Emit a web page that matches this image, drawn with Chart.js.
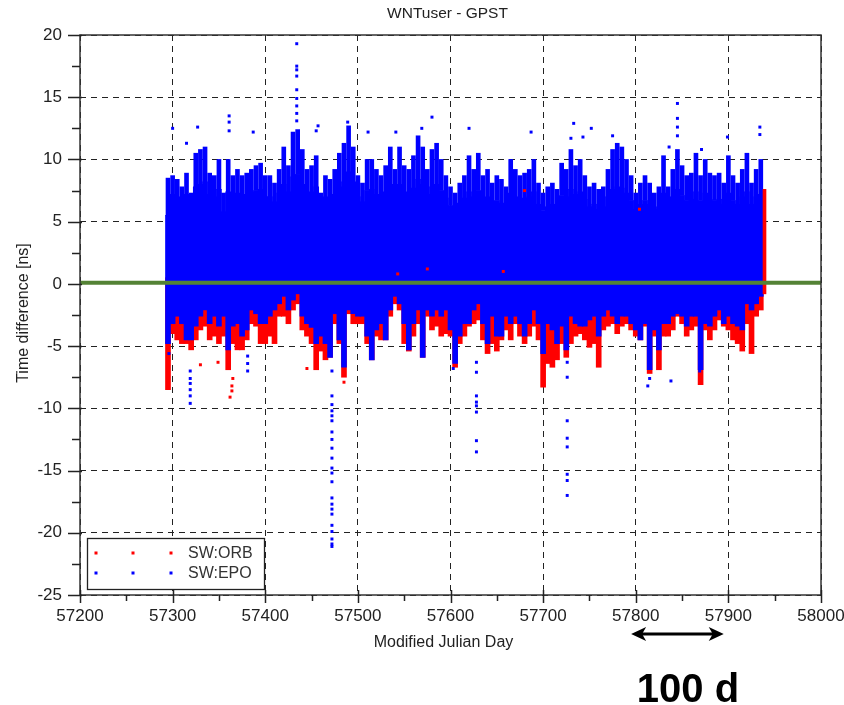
<!DOCTYPE html>
<html>
<head>
<meta charset="utf-8">
<script src="https://cdn.jsdelivr.net/npm/chart.js@4/dist/chart.umd.min.js"></script>
<style>
  html, body { margin: 0; padding: 0; background: #fff; }
</style>
</head>
<body>
<canvas id="c" width="844" height="705"></canvas>
<script>
// 5-day bins of the point cloud (MJD)
const mjd = [
  57295,57300,57305,57310,57315,57320,57325,57330,57335,57340,
  57345,57350,57355,57360,57365,57370,57375,57380,57385,57390,
  57395,57400,57405,57410,57415,57420,57425,57430,57435,57440,
  57445,57450,57455,57460,57465,57470,57475,57480,57485,57490,
  57495,57500,57505,57510,57515,57520,57525,57530,57535,57540,
  57545,57550,57555,57560,57565,57570,57575,57580,57585,57590,
  57595,57600,57605,57610,57615,57620,57625,57630,57635,57640,
  57645,57650,57655,57660,57665,57670,57675,57680,57685,57690,
  57695,57700,57705,57710,57715,57720,57725,57730,57735,57740,
  57745,57750,57755,57760,57765,57770,57775,57780,57785,57790,
  57795,57800,57805,57810,57815,57820,57825,57830,57835,57840,
  57845,57850,57855,57860,57865,57870,57875,57880,57885,57890,
  57895,57900,57905,57910,57915,57920,57925,57930,57935
];
// SW:EPO - highest points of each bin [ns]
const blueTop = [
  8.5, 8.7, 8.4, 7.8, 8.9, 7.3, 10.5, 10.8, 11.0, 8.9,
  8.7, 10.0, 7.3, 10.0, 8.7, 9.2, 8.7, 8.9, 9.2, 9.5,
  9.7, 8.7, 8.7, 8.1, 9.2, 11.0, 9.5, 12.2, 12.4, 10.8,
  9.2, 9.5, 10.3, 7.3, 8.7, 8.4, 9.2, 10.5, 11.3, 12.7,
  11.0, 8.7, 8.1, 10.0, 10.0, 9.2, 8.7, 9.5, 11.0, 9.2,
  11.0, 9.5, 9.2, 10.3, 11.9, 11.0, 9.2, 10.8, 11.3, 10.0,
  8.7, 7.8, 7.3, 8.1, 8.7, 10.3, 9.2, 10.5, 8.7, 9.2,
  8.1, 8.7, 8.4, 7.8, 10.0, 9.2, 8.7, 8.9, 9.2, 10.0,
  8.1, 7.3, 7.8, 8.1, 7.6, 9.7, 9.2, 10.8, 9.5, 10.0,
  8.7, 7.8, 8.1, 7.6, 7.8, 9.2, 10.8, 11.3, 11.0, 10.0,
  8.7, 7.3, 8.1, 8.7, 8.1, 7.3, 7.8, 10.3, 7.8, 9.2,
  10.8, 9.5, 8.7, 8.9, 10.5, 8.7, 10.0, 8.9, 8.7, 8.9,
  8.1, 10.3, 8.7, 8.1, 9.2, 10.5, 8.1, 9.2, 10.0
];
// SW:EPO - top of the dense part of each bin [ns]
const blueCore = [
  5.5, 7.2, 7.0, 6.6, 7.2, 6.2, 7.8, 8.0, 8.2, 7.2,
  7.0, 7.6, 5.8, 7.4, 7.0, 7.3, 7.0, 7.2, 7.4, 7.5,
  7.6, 7.0, 7.0, 6.6, 7.3, 8.0, 7.4, 8.6, 8.8, 8.0,
  7.3, 7.4, 7.8, 6.0, 7.0, 6.8, 7.2, 7.8, 8.2, 9.0,
  8.2, 7.0, 6.6, 7.5, 7.6, 7.2, 7.0, 7.4, 8.0, 7.2,
  8.0, 7.4, 7.2, 7.7, 8.4, 8.0, 7.2, 7.8, 8.0, 7.5,
  6.9, 6.3, 6.0, 6.5, 6.9, 7.4, 7.0, 7.5, 6.8, 7.0,
  6.4, 6.7, 6.5, 6.2, 7.3, 7.0, 6.8, 6.9, 7.0, 7.4,
  6.4, 5.9, 6.2, 6.4, 6.1, 7.1, 7.0, 7.6, 7.2, 7.4,
  6.8, 6.2, 6.4, 6.0, 6.2, 7.0, 7.6, 7.8, 7.7, 7.3,
  6.7, 6.0, 6.4, 6.7, 6.4, 6.0, 6.2, 7.3, 6.2, 7.0,
  7.6, 7.1, 6.7, 6.8, 7.4, 6.7, 7.3, 6.8, 6.7, 6.8,
  6.4, 7.3, 6.7, 6.4, 7.0, 7.4, 6.4, 7.0, 7.2
];
// SW:EPO - lowest points of each bin [ns]
const blueLow = [
  -4.8, -3.2, -2.6, -3.2, -4.5, -4.5, -3.4, -2.6, -2.1, -3.2,
  -2.6, -3.4, -2.6, -5.3, -3.4, -3.2, -4.2, -3.7, -2.1, -2.4,
  -3.2, -3.2, -2.6, -2.1, -1.6, -1.0, -2.1, -1.3, -0.8, -2.6,
  -3.2, -3.5, -4.8, -4.2, -4.8, -5.9, -2.4, -4.5, -6.7, -2.1,
  -2.4, -2.6, -2.6, -4.2, -6.1, -3.7, -3.2, -4.5, -2.1, -1.0,
  -1.6, -3.2, -5.3, -3.2, -2.1, -5.9, -2.1, -2.6, -2.1, -2.6,
  -2.1, -3.7, -6.4, -4.2, -3.2, -3.2, -2.1, -1.6, -3.2, -4.8,
  -2.6, -4.2, -4.2, -2.6, -3.2, -2.6, -3.2, -4.2, -3.2, -2.1,
  -3.2, -5.6, -3.2, -3.7, -4.8, -3.4, -5.3, -2.6, -3.2, -3.4,
  -3.4, -2.9, -2.6, -4.2, -2.6, -2.1, -2.6, -3.2, -2.6, -2.6,
  -3.2, -3.7, -4.5, -3.2, -6.9, -3.7, -5.3, -3.2, -3.2, -2.6,
  -2.4, -2.6, -3.4, -2.6, -2.6, -6.9, -3.2, -3.4, -2.6, -2.1,
  -3.2, -2.6, -3.2, -3.4, -3.7, -1.6, -2.1, -1.6, -1.0
];
// SW:ORB - lowest points of each bin [ns]
const redLow = [
  -8.5, -4.0, -4.5, -4.8, -4.8, -5.3, -4.5, -3.7, -3.4, -4.5,
  -4.2, -4.8, -4.2, -6.9, -4.8, -5.3, -5.3, -4.5, -3.2, -3.4,
  -4.8, -4.8, -4.2, -4.8, -2.6, -2.6, -3.2, -2.1, -1.6, -3.7,
  -4.2, -4.8, -6.9, -5.4, -6.1, -5.9, -3.2, -4.8, -7.5, -2.4,
  -3.2, -3.2, -3.2, -4.8, -6.1, -4.2, -4.5, -4.5, -2.6, -1.6,
  -2.1, -4.8, -5.4, -4.2, -3.2, -5.9, -2.6, -3.7, -3.4, -4.2,
  -4.0, -4.2, -6.7, -4.8, -4.2, -3.4, -3.2, -2.9, -4.5, -5.6,
  -4.8, -5.4, -4.5, -3.7, -4.5, -3.2, -4.2, -4.8, -4.2, -3.4,
  -4.5, -8.3, -6.4, -6.7, -6.1, -4.8, -5.9, -4.8, -4.2, -4.0,
  -4.5, -5.1, -4.8, -6.7, -3.7, -3.4, -3.2, -4.0, -3.4, -3.2,
  -3.7, -4.2, -4.5, -3.4, -7.2, -4.2, -6.9, -4.2, -4.2, -3.7,
  -2.6, -3.2, -4.2, -3.7, -3.4, -8.1, -3.7, -4.5, -3.7, -2.9,
  -3.4, -3.7, -4.5, -4.8, -5.4, -3.2, -5.6, -2.6, -2.1
];
// SW:ORB - last day, red strip at the right end
const redTailX = [57939];
const redTailLow = [-0.8];
const redTailTop = [7.6];

// isolated SW:EPO points
const blueDotX = [
  57434, 57434, 57434, 57434, 57434, 57434, 57434, 57434, 57434,
  57361, 57361, 57361, 57300, 57315, 57327, 57387, 57455, 57457, 57489,
  57511, 57541, 57569, 57580, 57620, 57687, 57730, 57733, 57743, 57752,
  57775, 57836, 57845, 57845, 57845, 57845, 57871, 57899, 57934, 57934,
  57472, 57472, 57472, 57472, 57472, 57472, 57472, 57472, 57472, 57472, 57472,
  57472, 57472, 57472, 57472, 57472, 57472, 57472, 57472, 57472, 57472, 57472,
  57319, 57319, 57319, 57319, 57319, 57319, 57381, 57381, 57381, 57296,
  57628, 57628, 57628, 57628, 57628, 57628, 57628, 57628,
  57726, 57726, 57726, 57726, 57726, 57726, 57726, 57726,
  57603, 57813, 57815, 57838, 57869
];
const blueDotY = [
  19.3, 17.5, 17.2, 16.7, 15.6, 14.9, 14.3, 13.7, 13.1,
  13.5, 13.0, 12.3, 12.5, 11.3, 12.6, 12.2, 12.3, 12.7, 13.0,
  12.2, 12.2, 12.5, 13.4, 12.5, 12.2, 11.7, 12.9, 11.8, 12.5,
  11.9, 11.0, 14.5, 13.3, 12.6, 11.9, 10.8, 11.8, 12.6, 12.0,
  -7.0, -9.0, -9.7, -10.2, -10.6, -11.0, -11.9, -12.5, -13.2, -14.0, -14.8,
  -15.2, -15.9, -17.2, -17.7, -18.1, -18.5, -19.4, -19.9, -20.5, -20.9, -21.1,
  -7.0, -7.6, -8.0, -8.5, -9.0, -9.6, -5.8, -6.4, -7.0, -5.6,
  -6.3, -7.1, -9.0, -9.5, -9.8, -10.3, -12.6, -13.5,
  -6.3, -7.5, -11.0, -12.4, -13.1, -15.3, -15.8, -17.0,
  -6.8, -8.2, -7.6, -7.8, -7.0
];
// isolated SW:ORB points
const redDotX = [57330, 57349, 57362, 57364, 57364, 57365, 57445, 57485, 57543, 57575, 57657, 57680, 57804];
const redDotY = [-6.5, -6.3, -9.1, -8.2, -8.6, -7.6, -6.8, -7.9, 0.8, 1.2, 1.0, 7.5, 6.0];

// reference level (green)
const refX = [57200, 58000];
const refY = [0.1, 0.1];

const xTickLabels = [57200, 57300, 57400, 57500, 57600, 57700, 57800, 57900, 58000];
const yTickLabels = [20, 15, 10, 5, 0, -5, -10, -15, -20, -25];
const seriesNames = ['SW:ORB', 'SW:EPO'];
const spanStart = 57795, spanEnd = 57895, spanText = '100 d';

const FONT = '"Liberation Sans", Arial, sans-serif';
const BLUE = '#0000ff', RED = '#ff0000', GREEN = '#548235';

const decor = {
  id: 'decor',
  beforeDraw(chart) {
    const ctx = chart.ctx;
    ctx.save();
    ctx.fillStyle = '#fff';
    ctx.fillRect(0, 0, chart.width, chart.height);
    ctx.restore();
  },
  afterDraw(chart) {
    const { ctx, chartArea: a, scales: { x, y } } = chart;
    ctx.save();

    // plot frame
    ctx.strokeStyle = '#333';
    ctx.lineWidth = 1.5;
    ctx.strokeRect(a.left, a.top, a.right - a.left, a.bottom - a.top);

    // major + minor tick marks
    ctx.strokeStyle = '#222';
    ctx.lineWidth = 1.5;
    ctx.beginPath();
    for (let i = 0; i < xTickLabels.length; i++) {
      const px = Math.round(x.getPixelForValue(xTickLabels[i])) + 0.5;
      ctx.moveTo(px, a.bottom - 5); ctx.lineTo(px, a.bottom + 8);
      if (i < xTickLabels.length - 1) {
        const pm = Math.round(x.getPixelForValue((xTickLabels[i] + xTickLabels[i + 1]) / 2)) + 0.5;
        ctx.moveTo(pm, a.bottom); ctx.lineTo(pm, a.bottom + 6);
      }
    }
    for (let i = 0; i < yTickLabels.length; i++) {
      const py = Math.round(y.getPixelForValue(yTickLabels[i])) + 0.5;
      ctx.moveTo(a.left - 12, py); ctx.lineTo(a.left + 2, py);
      if (i < yTickLabels.length - 1) {
        const pm = Math.round(y.getPixelForValue((yTickLabels[i] + yTickLabels[i + 1]) / 2)) + 0.5;
        ctx.moveTo(a.left - 8, pm); ctx.lineTo(a.left, pm);
      }
    }
    ctx.stroke();

    // title and axis titles
    ctx.fillStyle = '#222';
    ctx.textAlign = 'center';
    ctx.textBaseline = 'middle';
    ctx.font = '15.5px ' + FONT;
    ctx.fillText('WNTuser - GPST', (a.left + a.right) / 2 - 3, 14);
    ctx.font = '16px ' + FONT;
    ctx.fillText('Modified Julian Day', (a.left + a.right) / 2 - 7, 643);
    ctx.save();
    ctx.translate(24, 313);
    ctx.rotate(-Math.PI / 2);
    ctx.fillText('Time difference [ns]', 0, 0);
    ctx.restore();

    // legend box
    const lx = 87, ly = 538, lw = 177, lh = 51;
    ctx.fillStyle = '#fff';
    ctx.fillRect(lx, ly, lw, lh);
    ctx.strokeStyle = '#222';
    ctx.lineWidth = 1.3;
    ctx.strokeRect(lx + 0.5, ly + 0.5, lw, lh);
    const cols = [RED, BLUE];
    for (let r = 0; r < 2; r++) {
      const yy = ly + 15 + r * 20;
      ctx.fillStyle = cols[r];
      [96, 133, 171].forEach(dx => ctx.fillRect(dx - 1.5, yy - 1.5, 3, 3));
      ctx.fillStyle = '#333';
      ctx.textAlign = 'left';
      ctx.font = '16px ' + FONT;
      ctx.fillText(seriesNames[r], 188, yy + 1);
    }

    // 100 day arrow
    const x0 = x.getPixelForValue(spanStart), x1 = x.getPixelForValue(spanEnd), ay = 634;
    ctx.strokeStyle = '#000';
    ctx.fillStyle = '#000';
    ctx.lineWidth = 3;
    ctx.beginPath();
    ctx.moveTo(x0 + 8, ay); ctx.lineTo(x1 - 8, ay);
    ctx.stroke();
    ctx.beginPath();
    ctx.moveTo(x0, ay); ctx.lineTo(x0 + 15, ay - 7); ctx.lineTo(x0 + 11, ay); ctx.lineTo(x0 + 15, ay + 7); ctx.closePath();
    ctx.moveTo(x1, ay); ctx.lineTo(x1 - 15, ay - 7); ctx.lineTo(x1 - 11, ay); ctx.lineTo(x1 - 15, ay + 7); ctx.closePath();
    ctx.fill();
    ctx.textAlign = 'center';
    ctx.textBaseline = 'alphabetic';
    ctx.font = 'bold 40px ' + FONT;
    ctx.fillText(spanText, 688, 702);

    ctx.restore();
  }
};

const bins = (lo, hi) => mjd.map((m, i) => ({ x: m, y: [lo[i], hi[i]] }));
const pts = (xs, ys) => xs.map((v, i) => ({ x: v, y: ys[i] }));

new Chart(document.getElementById('c'), {
  type: 'bar',
  data: {
    datasets: [
      {
        type: 'line', label: 'ref', data: pts(refX, refY),
        borderColor: GREEN, borderWidth: 4, pointRadius: 0, order: 0
      },
      {
        type: 'scatter', label: 'EPO dots', data: pts(blueDotX, blueDotY),
        pointStyle: 'rect', pointRadius: 2.1, borderWidth: 0, backgroundColor: BLUE, order: 1
      },
      {
        type: 'scatter', label: 'ORB dots', data: pts(redDotX, redDotY),
        pointStyle: 'rect', pointRadius: 2.1, borderWidth: 0, backgroundColor: RED, order: 2
      },
      {
        label: 'ORB tail', data: redTailX.map((m, i) => ({ x: m, y: [redTailLow[i], redTailTop[i]] })),
        backgroundColor: RED, barThickness: 3, grouped: false, order: 2
      },
      {
        label: 'EPO spikes', data: bins(blueCore, blueTop),
        backgroundColor: BLUE, barThickness: 4, grouped: false, order: 3
      },
      {
        label: 'EPO', data: bins(blueLow, blueCore),
        backgroundColor: BLUE, barThickness: 5, grouped: false, order: 3
      },
      {
        label: 'ORB', data: bins(redLow, mjd.map(() => 0.5)),
        backgroundColor: RED, barThickness: 5, grouped: false, order: 4
      }
    ]
  },
  options: {
    responsive: false,
    animation: false,
    devicePixelRatio: 1,
    layout: { padding: { top: 35, right: 23, left: 0, bottom: 0 } },
    plugins: { legend: { display: false }, tooltip: { enabled: false }, title: { display: false } },
    scales: {
      x: {
        type: 'linear', min: 57200, max: 58000, offset: false,
        afterFit(s) { s.height = 110; s.paddingLeft = 0; s.paddingRight = 0; },
        afterBuildTicks(s) { s.ticks = xTickLabels.map(v => ({ value: v })); },
        ticks: {
          color: '#222', font: { family: FONT, size: 17 }, padding: 11, maxRotation: 0,
          callback: v => String(v)
        },
        grid: { color: '#222', lineWidth: 1, drawTicks: false, offset: false },
        border: { display: false, dash: [6, 5] }
      },
      y: {
        type: 'linear', min: -25, max: 20,
        afterFit(s) { s.width = 80; s.paddingTop = 0; s.paddingBottom = 0; },
        afterBuildTicks(s) { s.ticks = yTickLabels.map(v => ({ value: v })); },
        ticks: { color: '#222', font: { family: FONT, size: 17 }, padding: 18, callback: v => String(v) },
        grid: { color: '#222', lineWidth: 1, drawTicks: false },
        border: { display: false, dash: [6, 5] }
      }
    }
  },
  plugins: [decor]
});
</script>
</body>
</html>
